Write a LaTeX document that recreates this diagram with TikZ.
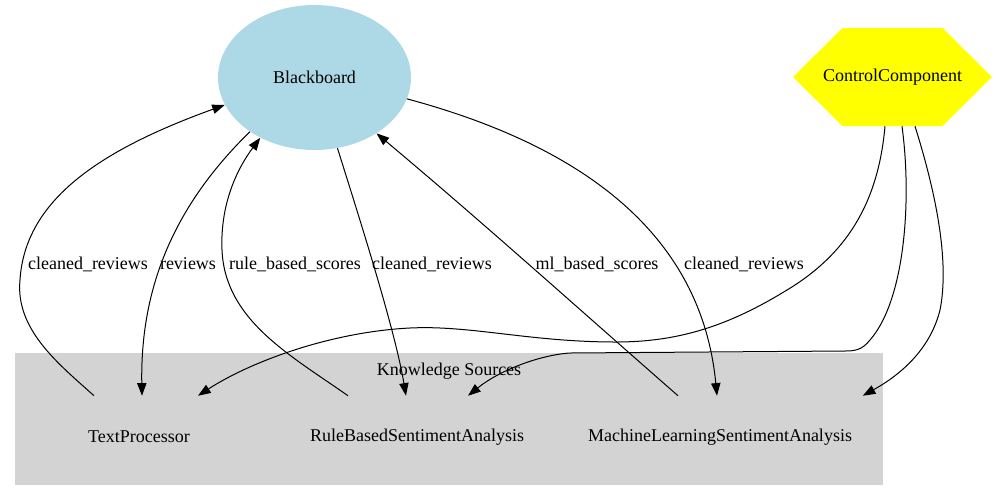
\documentclass[tikz,border=0pt]{standalone}
\usepackage{fontspec}
\setmainfont{Liberation Serif}
\usetikzlibrary{arrows.meta,calc,shapes.geometric,backgrounds}
\definecolor{bbblue}{HTML}{ADD8E6}
\definecolor{ksgray}{HTML}{D3D3D3}
\definecolor{ccyellow}{HTML}{FFFF00}
\begin{document}
\begin{tikzpicture}[x=0.75pt,y=-0.75pt,
        font=\fontsize{13.5}{16}\selectfont,
        arr/.style={draw,line width=0.75pt,-{Triangle[length=9.5pt,width=7pt]}},
        ksnode/.style={rectangle,inner sep=0pt,minimum height=61.5pt}]
    \useasboundingbox (0,0) rectangle (996,501);

    % knowledge sources cluster
    \node[fill=ksgray,inner sep=0pt,minimum width=651pt,minimum height=99pt] (ks) at (449,419){};
    \node (kslabel) at (449,371){Knowledge Sources};

    \node[draw=none,ellipse,fill=bbblue,inner sep=0pt,minimum width=144.75pt,minimum height=108.75pt] (bb) at (314.5,77.5){Blackboard};
    \node[rectangle,inner sep=0pt,minimum height=73.5pt] (cc) at (892.5,77){ControlComponent};
    \begin{scope}[on background layer]
        \fill[ccyellow] ($(cc)+(-50,-49)$) -- ($(cc)+(50,-49)$) -- ($(cc)+(99.5,0)$) -- ($(cc)+(50,49)$) -- ($(cc)+(-50,49)$) -- ($(cc)+(-99.5,0)$) -- cycle;
    \end{scope}
    \node[ksnode,minimum width=93pt] (tp) at (139,437){TextProcessor};
    \node[ksnode,minimum width=175.5pt] (rb) at (417,437){RuleBasedSentimentAnalysis};
    \node[ksnode,minimum width=213.75pt] (ml) at (720,437){MachineLearningSentimentAnalysis};

    \path [arr] ($(tp.north)+(-45,0)$) .. controls (60,365) and (15,330) .. (20,280) .. controls (25,200) and (100,150) .. (bb.197);
    \path [arr] (bb.220) .. controls (180,200) and (140,280) .. ($(tp.north)+(3,0)$);
    \path [arr] ($(rb.north)+(-69,0)$) .. controls (290,355) and (225,320) .. (222,250) .. controls (220,200) and (240,165) .. (bb.228);
    \path [arr] (bb.288) .. controls (360,220) and (395,330) .. ($(rb.north)+(-11,0)$);
    \path [arr] ($(ml.north)+(-42,0)$) .. controls (580,310) and (480,220) .. (bb.318);
    \path [arr] (bb.347) .. controls (560,140) and (700,220) .. ($(ml.north)+(-3,0)$);
    \path [arr] ($(cc.south)+(-7.5,0)$) .. controls (878,205) and (845,255) .. (787,290) .. controls (730,325) and (680,342) .. (616,342) .. controls (530,342) and (470,325) .. (410,328) .. controls (330,332) and (250,362) .. ($(tp.north)+(59,0)$);
    \path [arr] ($(cc.south)+(9.5,0)$) .. controls (912,200) and (905,300) .. (870,340) .. controls (862,350) and (855,351) .. (845,351) -- (570,353) .. controls (540,355) and (500,370) .. ($(rb.north)+(51,0)$);
    \path [arr] ($(cc.south)+(22.5,0)$) .. controls (935,190) and (950,260) .. (940,310) .. controls (930,350) and (900,375) .. (ml.north east);

    \node (l1) at (88,264){cleaned\_reviews};
    \node (l2) at (188,264){reviews};
    \node (l3) at (295,264){rule\_based\_scores};
    \node (l4) at (432,264){cleaned\_reviews};
    \node (l5) at (597,264){ml\_based\_scores};
    \node (l6) at (744,264){cleaned\_reviews};
\end{tikzpicture}
\end{document}
